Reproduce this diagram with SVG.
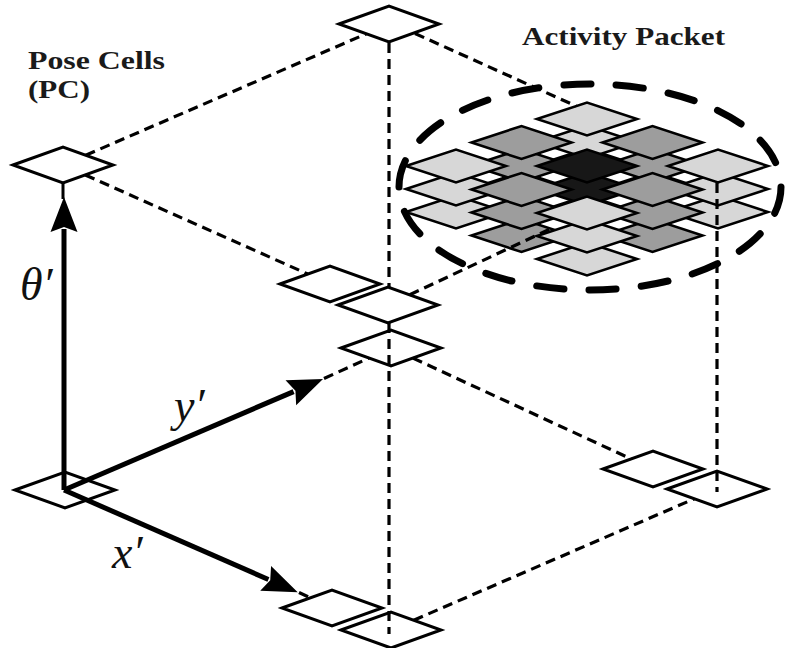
<svg xmlns="http://www.w3.org/2000/svg" width="786" height="648" viewBox="0 0 786 648">
  <style>
    .cell { fill: #ffffff; stroke: #000000; stroke-width: 3; stroke-linejoin: miter; }
    .pk { stroke: #000000; stroke-width: 2.6; stroke-linejoin: miter; }
    .light { fill: #d7d7d7; }
    .gray { fill: #9d9d9d; }
    .dark { fill: #171717; }
    .dash { fill: none; stroke: #000000; stroke-width: 3.2; stroke-dasharray: 10 6; }
    .axis { fill: none; stroke: #000000; stroke-width: 5; marker-end: url(#head); }
    .blob { fill: none; stroke: #000000; stroke-width: 7; stroke-linecap: round; }
    .title { font-family: "Liberation Serif", "Times New Roman", serif; font-weight: bold; font-size: 25px; fill: #1a1a1a; }
    .math { font-family: "Liberation Serif", "Times New Roman", serif; font-style: italic; font-size: 46px; fill: #111111; }
  </style>
  <defs>
    <!-- pose cell: flat isometric diamond -->
    <path id="d" d="M-50,0 L0,-18 L50,0 L0,18 Z"/>
    <!-- smaller cell used inside the activity packet -->
    <path id="p" d="M-50,0 L0,-16.5 L50,0 L0,16.5 Z"/>
    <marker id="head" markerUnits="userSpaceOnUse" markerWidth="40" markerHeight="30" viewBox="-4 -15 40 30" refX="0" refY="0" orient="auto">
      <path d="M-3,-13.5 L32,0 L-3,13.5 L2,0 Z" fill="#000000"/>
    </marker>
  </defs>

  <!-- corner and edge cells of the pose-cell volume -->
  <g id="cell-top"><use href="#d" class="cell" x="389" y="24"/></g>
  <g id="cell-left-top"><use href="#d" class="cell" x="63" y="165"/></g>
  <g id="cell-mid-a"><use href="#d" class="cell" x="330" y="284"/></g>
  <g id="cell-mid-b"><use href="#d" class="cell" x="388" y="305"/></g>
  <g id="cell-mid-c"><use href="#d" class="cell" x="391" y="348"/></g>
  <g id="cell-origin"><use href="#d" class="cell" x="65" y="490"/></g>
  <g id="cell-bottom-a"><use href="#d" class="cell" x="332" y="608"/></g>
  <g id="cell-bottom-b"><use href="#d" class="cell" x="391" y="630"/></g>
  <g id="cell-right-a"><use href="#d" class="cell" x="653" y="469"/></g>
  <g id="cell-right-b"><use href="#d" class="cell" x="717" y="489"/></g>

  <!-- activity packet: three stacked 3x3 layers, bottom layer first -->
  <g id="activity-packet">
    <g id="packet-layer-bottom" transform="translate(587,212)">
      <use href="#p" class="pk light" x="0" y="-47"/>
      <use href="#p" class="pk gray" x="-65.5" y="-23.5"/>
      <use href="#p" class="pk gray" x="65.5" y="-23.5"/>
      <use href="#p" class="pk light" x="-131" y="0"/>
      <use href="#p" class="pk dark" x="0" y="0"/>
      <use href="#p" class="pk light" x="131" y="0"/>
      <use href="#p" class="pk gray" x="-65.5" y="23.5"/>
      <use href="#p" class="pk gray" x="65.5" y="23.5"/>
      <use href="#p" class="pk light" x="0" y="47"/>
    </g>
    <g id="packet-layer-middle" transform="translate(587,189)">
      <use href="#p" class="pk light" x="0" y="-47"/>
      <use href="#p" class="pk gray" x="-65.5" y="-23.5"/>
      <use href="#p" class="pk gray" x="65.5" y="-23.5"/>
      <use href="#p" class="pk light" x="-131" y="0"/>
      <use href="#p" class="pk dark" x="0" y="0"/>
      <use href="#p" class="pk light" x="131" y="0"/>
      <use href="#p" class="pk gray" x="-65.5" y="23.5"/>
      <use href="#p" class="pk gray" x="65.5" y="23.5"/>
      <use href="#p" class="pk light" x="0" y="47"/>
    </g>
    <g id="packet-layer-top" transform="translate(587,166)">
      <use href="#p" class="pk light" x="0" y="-47"/>
      <use href="#p" class="pk gray" x="-65.5" y="-23.5"/>
      <use href="#p" class="pk gray" x="65.5" y="-23.5"/>
      <use href="#p" class="pk light" x="-131" y="0"/>
      <use href="#p" class="pk dark" x="0" y="0"/>
      <use href="#p" class="pk light" x="131" y="0"/>
      <use href="#p" class="pk gray" x="-65.5" y="23.5"/>
      <use href="#p" class="pk gray" x="65.5" y="23.5"/>
      <use href="#p" class="pk light" x="0" y="47"/>
    </g>
    <ellipse id="packet-outline" class="blob" cx="590" cy="187" rx="191" ry="103" pathLength="180" stroke-dasharray="5.2 4.8"/>
  </g>

  <!-- edges of the volume and the three axes -->
  <g id="connectors">
    <line class="dash" x1="85.7" y1="155.2" x2="366.3" y2="33.8"/>
    <line class="dash" x1="415" y1="33.5" x2="576" y2="106"/>
    <line class="dash" x1="85.3" y1="175" x2="307.7" y2="274"/>
    <line class="dash" x1="409.7" y1="294.8" x2="550" y2="229"/>
    <line class="dash" x1="324" y1="378.5" x2="368.9" y2="358.1"/>
    <line class="dash" x1="412.9" y1="358.1" x2="631.1" y2="458.9"/>
    <line class="dash" x1="299" y1="592.5" x2="310.3" y2="597.8"/>
    <line class="dash" x1="413.7" y1="620.2" x2="694.3" y2="498.8"/>
    <line class="dash" x1="389" y1="43" x2="389" y2="288"/>
    <line class="dash" x1="389" y1="323" x2="389" y2="634"/>
    <line class="dash" x1="717" y1="183" x2="717" y2="492"/>
    <line x1="63" y1="183" x2="63" y2="199" stroke="#000" stroke-width="3"/>
    <line id="axis-theta" class="axis" x1="64" y1="490" x2="64" y2="229"/>
    <line id="axis-y" class="axis" x1="64" y1="490" x2="293.6" y2="391.6"/>
    <line id="axis-x" class="axis" x1="64" y1="490" x2="268.4" y2="579.5"/>
  </g>

  <!-- labels -->
  <g id="labels">
    <text class="title" x="28" y="69" textLength="137" lengthAdjust="spacingAndGlyphs">Pose Cells</text>
    <text class="title" x="28" y="98" textLength="62" lengthAdjust="spacingAndGlyphs">(PC)</text>
    <text class="title" x="522" y="45" textLength="203" lengthAdjust="spacingAndGlyphs">Activity Packet</text>
    <text class="math" x="20" y="300">θ′</text>
    <text class="math" x="174" y="421">y′</text>
    <text class="math" x="112" y="568">x′</text>
  </g>
</svg>
